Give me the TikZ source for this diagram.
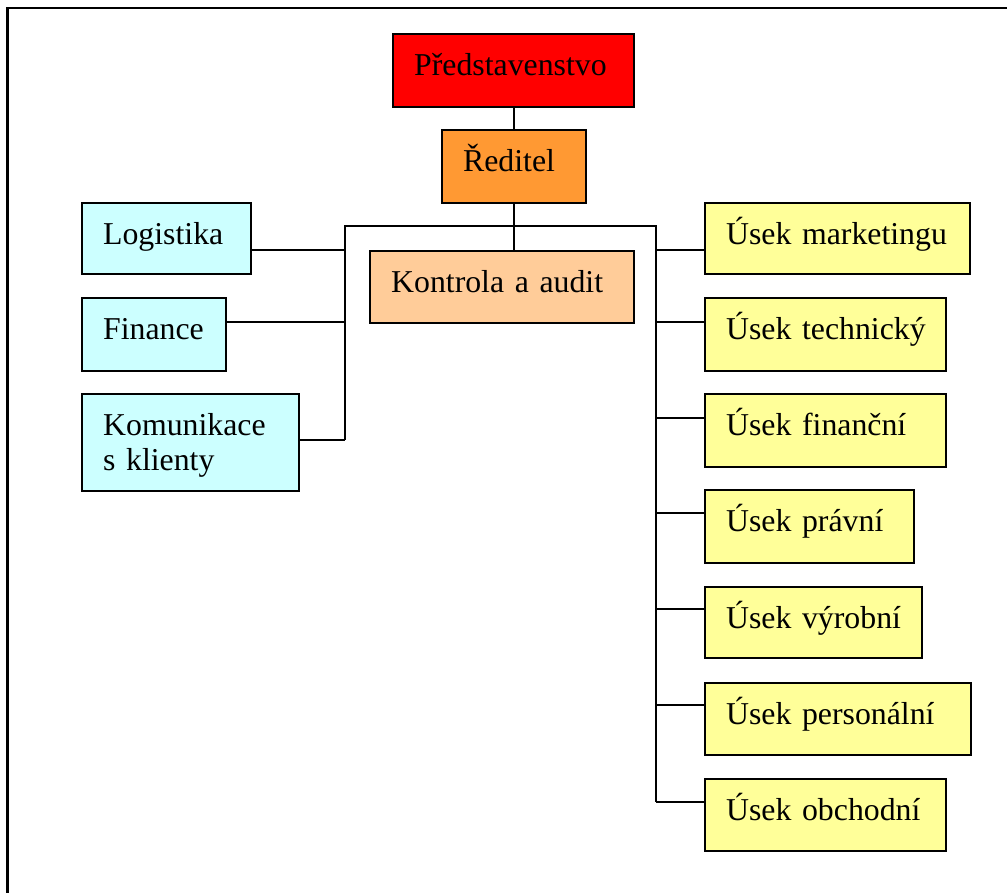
\documentclass[tikz,border=0pt]{standalone}
\usepackage{fontspec}
\setmainfont{Liberation Serif}
\definecolor{cRed}{HTML}{FF0000}
\definecolor{cOrange}{HTML}{FF9933}
\definecolor{cPeach}{HTML}{FFCC99}
\definecolor{cCyan}{HTML}{CCFFFF}
\definecolor{cYellow}{HTML}{FFFF99}
\tikzset{
  orgbox/.style={draw=black, line width=2.3pt, anchor=north west, inner xsep=21pt, inner ysep=0pt,
    align=left, text height=41pt, font=\fontsize{31.8}{35}\selectfont},
  link/.style={draw=black, line width=2pt},
  frameline/.style={draw=black, line width=2.6pt}
}
\begin{document}
\begin{tikzpicture}[x=1pt,y=1pt]
\useasboundingbox (0,0) rectangle (1007,-892);
\draw[frameline] (7.5,-893) -- (7.5,-8) -- (1008,-8);

% top
\node[orgbox, fill=cRed, text width=199pt, text depth=32pt] (pred) at (392,-33) {\mbox{Představenstvo}};
\node[orgbox, fill=cOrange, text width=102pt, text depth=32pt] (red) at (441,-129) {\mbox{Ředitel}};
\node[orgbox, fill=cPeach, text width=222pt, text depth=31pt] (kon) at (369,-250) {\mbox{Kontrola a audit}};

% left
\node[orgbox, fill=cCyan, text width=127pt, text depth=30pt] (log) at (81,-202) {\mbox{Logistika}};
\node[orgbox, fill=cCyan, text width=102pt, text depth=32pt] (fin) at (81,-297) {\mbox{Finance}};
\node[orgbox, fill=cCyan, text width=175pt, text depth=56pt] (kom) at (81,-393) {\mbox{Komunikace}\\\mbox{s klienty}};

% right
\node[orgbox, fill=cYellow, text width=223pt, text depth=30pt] (mkt) at (704,-202) {\mbox{Úsek marketingu}};
\node[orgbox, fill=cYellow, text width=199pt, text depth=32pt] (tech) at (704,-297) {\mbox{Úsek technický}};
\node[orgbox, fill=cYellow, text width=199pt, text depth=32pt] (fnc) at (704,-393) {\mbox{Úsek finanční}};
\node[orgbox, fill=cYellow, text width=167pt, text depth=32pt] (prav) at (704,-489) {\mbox{Úsek právní}};
\node[orgbox, fill=cYellow, text width=175pt, text depth=30pt] (vyr) at (704,-586) {\mbox{Úsek výrobní}};
\node[orgbox, fill=cYellow, text width=224pt, text depth=31pt] (pers) at (704,-682) {\mbox{Úsek personální}};
\node[orgbox, fill=cYellow, text width=199pt, text depth=31pt] (obch) at (704,-778) {\mbox{Úsek obchodní}};

% trunk coordinates
\coordinate (barL) at (345,-226);
\coordinate (barR) at (656,-226);
\coordinate (L1) at (345,-250);
\coordinate (L2) at (345,-322);
\coordinate (L3) at (345,-440);
\coordinate (R1) at (656,-250);
\coordinate (R2) at (656,-322);
\coordinate (R3) at (656,-418);
\coordinate (R4) at (656,-513);
\coordinate (R5) at (656,-609);
\coordinate (R6) at (656,-705);
\coordinate (R7) at (656,-802);

% connectors
\draw[link] (pred.south -| red.south) -- (red.north);
\draw[link] (red.south) -- (red.south |- kon.north);
\draw[link] (L3) -- (barL) -- (barR) -- (R7);
\draw[link] (log.east |- L1) -- (L1);
\draw[link] (fin.east |- L2) -- (L2);
\draw[link] (kom.east |- L3) -- (L3);
\draw[link] (R1) -- (mkt.west |- R1);
\draw[link] (R2) -- (tech.west |- R2);
\draw[link] (R3) -- (fnc.west |- R3);
\draw[link] (R4) -- (prav.west |- R4);
\draw[link] (R5) -- (vyr.west |- R5);
\draw[link] (R6) -- (pers.west |- R6);
\draw[link] (R7) -- (obch.west |- R7);
\end{tikzpicture}
\end{document}
